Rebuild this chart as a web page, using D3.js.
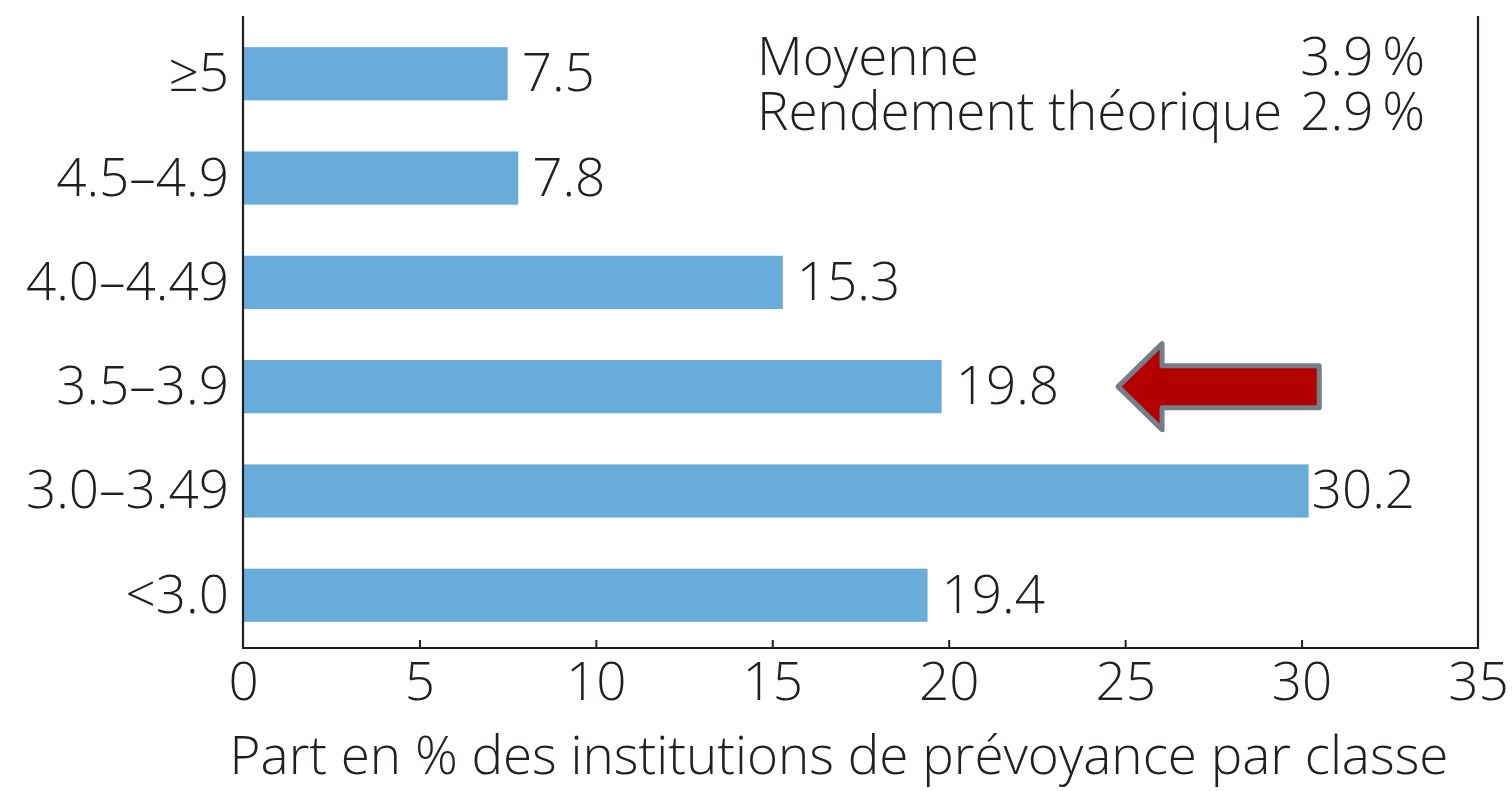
<!DOCTYPE html>
<head>
    <meta charset="utf-8">
    <title>Part des institutions de prévoyance par classe</title>
    <script src="https://cdn.jsdelivr.net/npm/d3@7"></script>
    <style>
        body { margin: 0; background: #fff; }
        text { font-family: "Open Sans", "Noto Sans", sans-serif; font-weight: 300; fill: #231f20; }
    </style>
</head>
<body>
<div id="chart"></div>
<script>
// classes de rendement (du haut vers le bas)
const categories = ["≥5", "4.5–4.9", "4.0–4.49", "3.5–3.9", "3.0–3.49", "<3.0"];
const shares = [7.5, 7.8, 15.3, 19.8, 30.2, 19.4];
const xTicks = [0, 5, 10, 15, 20, 25, 30, 35];
const legendLabels = ["Moyenne", "Rendement théorique"];
const legendValues = ["3.9\u2009%", "2.9\u2009%"];
const axisTitle = "Part en % des institutions de prévoyance par classe";
// flèche: pointe vers la classe 3.5–3.9, de 24.8 à 30.5 sur l'axe x
const arrowCategory = "3.5–3.9";
const arrowFrom = 30.5, arrowTo = 24.8;

const width = 1512, height = 791;
const mLeft = 243, mRight = 1478, mTop = 16, mBottom = 648;
const fs = 53;

const svg = d3.select("#chart").append("svg")
    .attr("width", width)
    .attr("height", height);

const x = d3.scaleLinear().domain([0, 35]).range([mLeft, mRight]);
const y = d3.scaleBand().domain(categories).range([mTop + 3, mBottom + 2])
    .paddingInner(0.49).paddingOuter(0.27);

const data = categories.map((c, i) => ({ cat: c, v: shares[i] }));

// barres
svg.append("g")
    .selectAll("rect")
    .data(data)
    .join("rect")
    .attr("x", x(0) + 1)
    .attr("y", d => y(d.cat))
    .attr("width", d => x(d.v) - x(0) - 1)
    .attr("height", y.bandwidth())
    .attr("fill", "#68acd9");

// valeurs
svg.append("g")
    .selectAll("text")
    .data(data)
    .join("text")
    .attr("x", d => x(d.v) + (d.v > 30 ? 3 : 14))
    .attr("y", d => y(d.cat) + y.bandwidth() / 2)
    .attr("dy", "0.33em")
    .attr("font-size", fs)
    .text(d => d.v.toFixed(1));

// libellés de classes
svg.append("g")
    .selectAll("text")
    .data(categories)
    .join("text")
    .attr("x", mLeft - 14)
    .attr("y", d => y(d) + y.bandwidth() / 2)
    .attr("dy", "0.33em")
    .attr("text-anchor", "end")
    .attr("font-size", fs)
    .text(d => d);

// cadre: gauche, droite, bas
svg.append("path")
    .attr("d", `M${mLeft},${mTop}V${mBottom}H${mRight}V${mTop}`)
    .attr("fill", "none")
    .attr("stroke", "#231f20")
    .attr("stroke-width", 2.2);

// axe x
const xAxis = svg.append("g")
    .attr("transform", `translate(0,${mBottom})`)
    .call(d3.axisBottom(x).tickValues(xTicks).tickSize(-8).tickPadding(14).tickFormat(d3.format("d")));
xAxis.select(".domain").remove();
xAxis.selectAll(".tick line")
    .attr("stroke", "#231f20")
    .attr("stroke-width", 2)
    .attr("display", d => (d === 0 || d === 35) ? "none" : null);
xAxis.attr("font-family", null).attr("font-size", null);
xAxis.selectAll(".tick text")
    .attr("font-size", fs)
    .attr("fill", "#231f20");

svg.append("text")
    .attr("x", 839)
    .attr("y", 774)
    .attr("text-anchor", "middle")
    .attr("font-size", fs)
    .text(axisTitle);

// légende (une colonne de libellés, une colonne de valeurs)
const legend = svg.append("g").attr("font-size", fs);
legend.append("text")
    .attr("x", 757).attr("y", 75)
    .attr("font-size", fs)
    .selectAll("tspan")
    .data(legendLabels)
    .join("tspan")
    .attr("x", 757)
    .attr("dy", (d, i) => i ? 55 : 0)
    .text(d => d);
legend.append("text")
    .attr("x", 1425).attr("y", 75)
    .attr("text-anchor", "end")
    .attr("font-size", fs)
    .selectAll("tspan")
    .data(legendValues)
    .join("tspan")
    .attr("x", 1425)
    .attr("dy", (d, i) => i ? 55 : 0)
    .text(d => d);

// flèche rouge
const ay = y(arrowCategory) + y.bandwidth() / 2;
const tipX = x(arrowTo), endX = x(arrowFrom);
const headX = tipX + 44, shaftH = 21, headH = 43;
svg.append("path")
    .attr("d", `M${tipX},${ay} L${headX},${ay - headH} V${ay - shaftH} H${endX} V${ay + shaftH} H${headX} V${ay + headH} Z`)
    .attr("fill", "#b50000")
    .attr("stroke", "#737e88")
    .attr("stroke-width", 5)
    .attr("stroke-linejoin", "round");
</script>
</body>
</html>
